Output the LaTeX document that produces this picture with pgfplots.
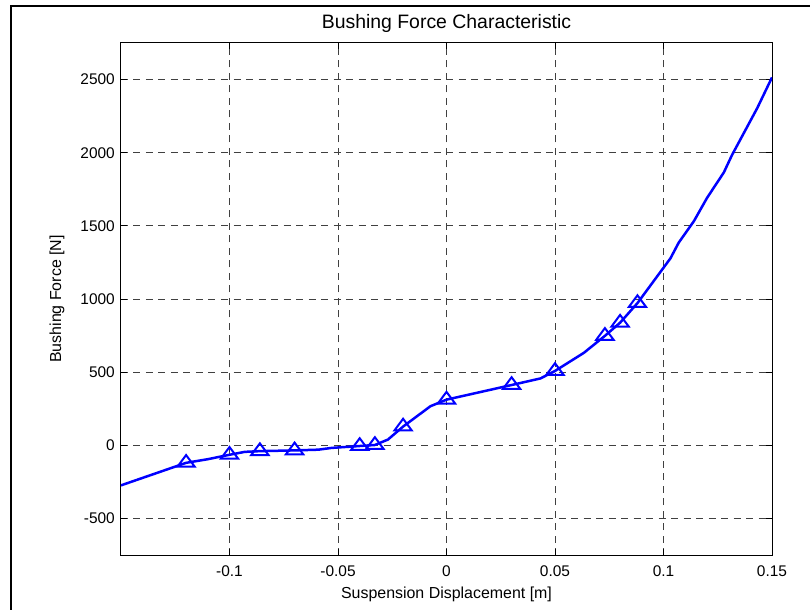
\documentclass[border=0pt]{standalone}
\usepackage{fontspec}
\setmainfont{Liberation Sans}
\usepackage{pgfplots}
\pgfplotsset{compat=1.18}
\begin{document}
\begin{tikzpicture}
\begin{axis}[
  at={(0,0)}, anchor=south west,
  scale only axis, width=651bp, height=512bp,
  xmin=-0.15, xmax=0.15, ymin=-750, ymax=2750,
  xtick={-0.1,-0.05,0,0.05,0.1,0.15},
  xticklabels={-0.1,-0.05,0,0.05,0.1,0.15},
  ytick={-500,0,500,1000,1500,2000,2500},
  yticklabels={-500,0,500,1000,1500,2000,2500},
  tick align=inside, tick pos=both, major tick length=6bp,
  tick style={black, line width=0.8bp},
  axis line style={black, line width=1bp},
  grid=major,
  major grid style={black!75, line width=0.8bp, dash pattern=on 7bp off 5.5bp},
  tick label style={font=\fontsize{15.5}{18}\selectfont},
  xticklabel style={anchor=base, yshift=-21bp, inner sep=0pt},
  yticklabel style={anchor=east, xshift=-6bp, inner sep=0pt},
  every axis title shift=0pt,
  title={Bushing Force Characteristic},
  title style={at={(axis description cs:0.5,1.029)}, anchor=base, font=\fontsize{19.5}{22}\selectfont},
  xlabel={Suspension Displacement [m]},
  xlabel style={at={(axis description cs:0.5,-0.084)}, anchor=base, font=\fontsize{16}{19}\selectfont},
  ylabel={Bushing Force [N]},
  ylabel style={at={(axis description cs:-0.0983,0.5)}, anchor=center, font=\fontsize{16}{19}\selectfont},
]
\addplot[blue, line width=2.5bp] coordinates {
(-0.15,-274) (-0.12,-120) (-0.11,-95) (-0.10,-65) (-0.093,-45) (-0.086,-40)
(-0.07,-35) (-0.059,-30) (-0.053,-18) (-0.04,-5) (-0.033,2) (-0.027,39)
(-0.02,128) (-0.0074,267) (0,312) (0.03,412) (0.0433,457) (0.05,508)
(0.0633,632) (0.073,748) (0.08,838) (0.088,972) (0.1032,1278) (0.107,1385)
(0.114,1532) (0.1201,1692) (0.1278,1865) (0.1316,1985) (0.1432,2305) (0.15,2515)
};
\addplot[blue, only marks, mark=triangle, mark size=10bp,
  mark options={line width=2bp, yscale=0.78, solid, fill=none}] coordinates {
(-0.12,-120) (-0.10,-65) (-0.086,-40) (-0.07,-35) (-0.04,-5) (-0.033,2)
(-0.02,128) (0,312) (0.03,412) (0.05,508) (0.073,748) (0.08,838) (0.088,972)
};
\end{axis}
\draw[black, line width=2bp] (-110bp,-70bp) -- (-110bp,549bp) -- (720bp,549bp);
\pgfresetboundingbox
\path[use as bounding box] (-121bp,-55bp) rectangle (689bp,555bp);
\end{tikzpicture}
\end{document}
